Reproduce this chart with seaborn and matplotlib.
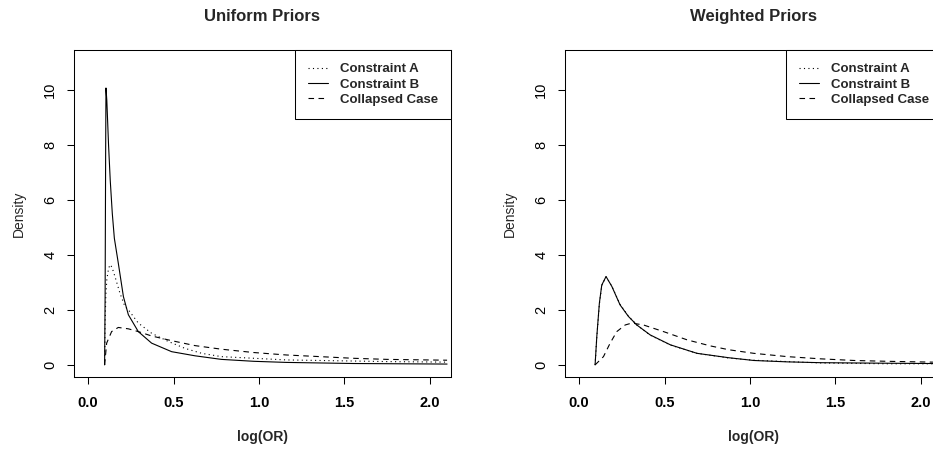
import numpy as np
import pandas as pd
import matplotlib
matplotlib.use("Agg")
import matplotlib.pyplot as plt
import seaborn as sns

# ----- values ----- #
series_names = ["Constraint A", "Constraint B", "Collapsed Case"]
panel_titles = ["Uniform Priors", "Weighted Priors"]

# Uniform priors
uni_a_x = [0.097, 0.100, 0.104, 0.110, 0.120, 0.129, 0.140, 0.158, 0.187, 0.216, 0.236, 0.294,
           0.372, 0.470, 0.567, 0.665, 0.780, 0.970, 1.160, 1.360, 1.750, 2.100]
uni_a_y = [0, 1.5, 2.5, 3.1, 3.5, 3.64, 3.55, 3.2, 2.6, 2.12, 2.0, 1.52,
           1.15, 0.85, 0.6, 0.42, 0.3, 0.24, 0.18, 0.16, 0.12, 0.1]
uni_b_x = [0.097, 0.100, 0.103, 0.105, 0.110, 0.115, 0.120, 0.130, 0.142, 0.154, 0.177, 0.207,
           0.236, 0.294, 0.372, 0.489, 0.626, 0.780, 0.970, 1.160, 1.550, 2.100]
uni_b_y = [0, 2.5, 7.6, 10.06, 9.6, 8.8, 8.0, 6.7, 5.5, 4.6, 3.7, 2.48,
           1.82, 1.21, 0.79, 0.48, 0.33, 0.2, 0.13, 0.09, 0.05, 0.03]
uni_c_x = [0.097, 0.109, 0.138, 0.177, 0.236, 0.294, 0.372, 0.489, 0.626, 0.780, 0.967, 1.160,
           1.357, 1.550, 1.750, 2.100]
uni_c_y = [0, 0.79, 1.21, 1.36, 1.31, 1.21, 1.05, 0.88, 0.7, 0.57, 0.45, 0.36,
           0.3, 0.24, 0.2, 0.17]

# Weighted priors
wtd_ab_x = [0.094, 0.104, 0.119, 0.133, 0.158, 0.192, 0.240, 0.289, 0.338, 0.416, 0.534, 0.690,
            0.876, 1.022, 1.218, 1.413, 1.805, 2.070]
wtd_a_y = [0, 1.0, 2.2, 2.88, 3.2, 2.86, 2.2, 1.77, 1.45, 1.08, 0.72, 0.42,
           0.25, 0.17, 0.12, 0.07, 0.04, 0.04]
wtd_b_y = [0, 1.03, 2.24, 2.9, 3.21, 2.85, 2.18, 1.76, 1.45, 1.09, 0.73, 0.42,
           0.26, 0.16, 0.11, 0.08, 0.06, 0.05]
wtd_c_x = [0.094, 0.143, 0.182, 0.221, 0.270, 0.309, 0.377, 0.494, 0.632, 0.768, 0.876, 1.022,
           1.218, 1.413, 1.609, 1.805, 2.070]
wtd_c_y = [0, 0.3, 0.79, 1.21, 1.45, 1.52, 1.45, 1.21, 0.91, 0.69, 0.55, 0.42,
           0.3, 0.22, 0.16, 0.13, 0.1]

x_ticks = [0.0, 0.5, 1.0, 1.5, 2.0]
y_ticks = [0, 2, 4, 6, 8, 10]


def make_df(parts):
    rows = []
    for name, xs, ys in parts:
        for x, y in zip(xs, ys):
            rows.append([name, x, y])
    return pd.DataFrame(rows, columns=["series", "x", "density"])


panels = [
    make_df([(series_names[0], uni_a_x, uni_a_y),
             (series_names[1], uni_b_x, uni_b_y),
             (series_names[2], uni_c_x, uni_c_y)]),
    make_df([(series_names[0], wtd_ab_x, wtd_a_y),
             (series_names[1], wtd_ab_x, wtd_b_y),
             (series_names[2], wtd_c_x, wtd_c_y)]),
]

sns.set_style("white")
plt.rcParams["font.family"] = ["Liberation Sans", "DejaVu Sans"]

line_styles = {
    series_names[0]: (0, (1, 3)),
    series_names[1]: "-",
    series_names[2]: (0, (5, 4)),
}

fig = plt.figure(figsize=(9.33, 4.49), dpi=100)
positions = [[74 / 933, 72 / 449, 377 / 933, 327 / 449],
             [565 / 933, 72 / 449, 377 / 933, 327 / 449]]

for pos, df, title in zip(positions, panels, panel_titles):
    ax = fig.add_axes(pos)
    for name in series_names:
        sub = df[df["series"] == name]
        sns.lineplot(data=sub, x="x", y="density", ax=ax, color="black", lw=0.8,
                     linestyle=line_styles[name], label=name, sort=False, estimator=None)

    ax.set_xlim(-0.082, 2.123)
    ax.set_ylim(-0.44, 11.44)
    ax.set_xticks(x_ticks)
    ax.set_xticklabels([f"{t:.1f}" for t in x_ticks], fontweight="bold")
    ax.set_yticks(y_ticks)
    ax.set_yticklabels([str(t) for t in y_ticks], rotation=90, va="center")
    ax.tick_params(direction="out", length=5, width=0.75, colors="black",
                   labelsize=10.5, bottom=True, left=True)
    ax.tick_params(axis="x", pad=9)
    ax.tick_params(axis="y", pad=7)
    for sp in ax.spines.values():
        sp.set_visible(True)
        sp.set_color("black")
        sp.set_linewidth(0.75)

    ax.set_xlabel("log(OR)", fontsize=10, fontweight="bold")
    ax.set_ylabel("Density", fontsize=10)
    ax.xaxis.set_label_coords(0.5, -0.1835)
    ax.xaxis.label.set_va("center")
    ax.yaxis.set_label_coords(-0.146, 0.5)
    ax.yaxis.label.set_va("center")
    ax.set_title(title, fontsize=12, fontweight="bold", y=1.101, va="center", pad=0)

    leg = ax.legend(loc="upper right", borderaxespad=0, fancybox=False, framealpha=1,
                    edgecolor="black", fontsize=9.5, handlelength=1.55, handletextpad=0.85,
                    borderpad=1.0, labelspacing=0.22)
    leg.get_frame().set_linewidth(0.75)
    for t in leg.get_texts():
        t.set_fontweight("bold")

fig.savefig("out.png", dpi=100)
